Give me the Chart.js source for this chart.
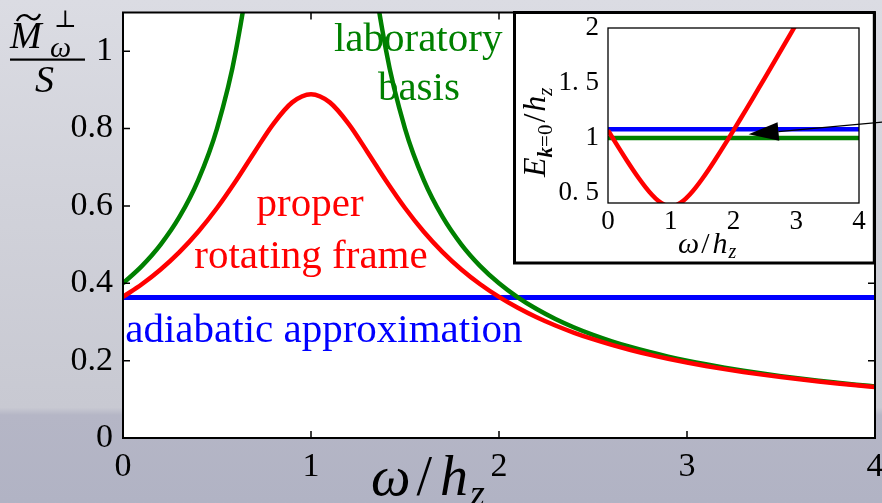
<!DOCTYPE html>
<html><head><meta charset="utf-8">
<script src="https://cdn.jsdelivr.net/npm/chart.js@4/dist/chart.umd.min.js"></script>
<style>
html,body{margin:0;padding:0;}
body{width:882px;height:503px;overflow:hidden;position:relative;
background:linear-gradient(to bottom,#dbdce3 0%,#d1d2da 40%,#c8c9d2 81%,#b5b6c6 82.5%,#b1b3c4 100%);}
#main{position:absolute;left:0;top:0;}
#inset{position:absolute;left:512px;top:11px;}
</style></head><body>
<canvas id="main" width="882" height="503"></canvas>
<canvas id="inset" width="370" height="255"></canvas>
<script>
// ---------- data ----------
const omega = [0,0.1,0.2,0.3,0.4,0.5,0.6,0.7,0.8,0.9,1.0,1.1,1.2,1.3,1.4,1.5,1.6,1.7,1.8,1.9,2.0,
  2.1,2.2,2.3,2.4,2.5,2.6,2.7,2.8,2.9,3.0,3.1,3.2,3.3,3.4,3.5,3.6,3.7,3.8,3.9,4.0];
const properFrame = [0.3648,0.3975,0.4358,0.4807,0.5333,0.5946,0.6644,0.7396,0.8123,0.8677,0.8889,
  0.8677,0.8123,0.7396,0.6644,0.5946,0.5333,0.4807,0.4358,0.3975,0.3648,
  0.3366,0.3121,0.2908,0.2720,0.2554,0.2407,0.2275,0.2156,0.2049,0.1951,
  0.1862,0.1781,0.1707,0.1638,0.1575,0.1516,0.1461,0.1410,0.1363,0.1319];
const labBasis = [0.4,0.4444,0.5,0.5714,0.6667,0.8,1.0,1.3333,2.0,4.0,null,
  4.0,2.0,1.3333,1.0,0.8,0.6667,0.5714,0.5,0.4444,0.4,
  0.3636,0.3333,0.3077,0.2857,0.2667,0.25,0.2353,0.2222,0.2105,0.2,
  0.1905,0.1818,0.1739,0.1667,0.16,0.1538,0.1481,0.1429,0.1379,0.1333];
const adiabaticOmega = [0,4];
const adiabatic = [0.363,0.363];
const mainXTicks = [0,1,2,3,4];
const mainXTickLabels = ['0','1','2','3','4'];
const mainYTicks = [0,0.2,0.4,0.6,0.8,1];
const mainYTickLabels = ['0','0.2','0.4','0.6','0.8','1'];

const insetRedOmega = [0,0.1,0.2,0.3,0.4,0.5,0.6,0.7,0.8,0.9,1.0,1.1,1.2,1.3,1.4,1.5,1.6,1.7,1.8,1.9,2.0,
  2.1,2.2,2.3,2.4,2.5,2.6,2.7,2.8,2.9,3.0];
const insetRed = [1.0700,0.9772,0.8860,0.7969,0.7106,0.6285,0.5523,0.4848,0.4301,0.3937,0.3808,
  0.3937,0.4301,0.4848,0.5523,0.6285,0.7106,0.7969,0.8860,0.9772,1.0700,
  1.1640,1.2590,1.3546,1.4509,1.5476,1.6447,1.7421,1.8398,1.9378,2.0360];
const insetLevelOmega = [0,4];
const insetBlue = [1.08,1.08];
const insetGreen = [1.0,1.0];
const insetXTicks = [0,1,2,3,4];
const insetXTickLabels = ['0','1','2','3','4'];
const insetYTicks = [0.5,1,1.5,2];
const insetYTickLabels = ['0. 5','1','1. 5','2'];

// ---------- helpers ----------
const SERIF = '"Liberation Serif", "DejaVu Serif", serif';
function pts(xs, ys){ return ys.map((y,i)=>({x:xs[i], y:y})); }
function noPad(s){ s.paddingTop=0; s.paddingBottom=0; s.paddingLeft=0; s.paddingRight=0; }

const mainNotes = [
  {text:'laboratory', x:1.57, y:1.0, color:'#008000', align:'center'},
  {text:'basis', x:1.574, y:0.875, color:'#008000', align:'center'},
  {text:'proper', x:0.995, y:0.573, color:'#ff0000', align:'center'},
  {text:'rotating frame', x:1.0, y:0.44, color:'#ff0000', align:'center'},
  {text:'adiabatic approximation', x:0.012, y:0.249, color:'#0000ff', align:'left'}
];

const mainDeco = {
  id:'mainDeco',
  beforeDraw(chart){
    const {ctx, chartArea:a} = chart;
    ctx.save(); ctx.fillStyle='#ffffff';
    ctx.fillRect(a.left,a.top,a.right-a.left,a.bottom-a.top); ctx.restore();
  },
  afterDatasetsDraw(chart){
    const {ctx, chartArea:a, scales} = chart;
    ctx.save();
    ctx.strokeStyle='#000'; ctx.lineWidth=2;
    ctx.strokeRect(a.left,a.top,a.right-a.left,a.bottom-a.top);
    ctx.lineWidth=1.5; ctx.beginPath();
    mainXTicks.forEach(v=>{ if(v<=0||v>=4) return; const px=scales.x.getPixelForValue(v);
      ctx.moveTo(px,a.bottom); ctx.lineTo(px,a.bottom-7); ctx.moveTo(px,a.top); ctx.lineTo(px,a.top+7); });
    mainYTicks.forEach(v=>{ if(v<=0) return; const py=scales.y.getPixelForValue(v);
      ctx.moveTo(a.left,py); ctx.lineTo(a.left+7,py); ctx.moveTo(a.right,py); ctx.lineTo(a.right-7,py); });
    ctx.stroke(); ctx.restore();
  },
  afterDraw(chart){
    const {ctx, scales} = chart;
    ctx.save();
    ctx.textBaseline='alphabetic';
    ctx.font = '41px ' + SERIF;
    mainNotes.forEach(n=>{ ctx.fillStyle=n.color; ctx.textAlign=n.align;
      ctx.fillText(n.text, scales.x.getPixelForValue(n.x), scales.y.getPixelForValue(n.y)); });
    ctx.textAlign='left'; ctx.fillStyle='#000';
    // y-axis title: M~ _omega ^perp / S
    ctx.font = 'italic 38px ' + SERIF; ctx.fillText('M', 10, 48);
    ctx.lineWidth=2.3; ctx.strokeStyle='#000'; ctx.beginPath();
    ctx.moveTo(17,21); ctx.bezierCurveTo(20,14,26,14,29,17); ctx.bezierCurveTo(32,20,37,21,40,14); ctx.stroke();
    ctx.font = '24px "DejaVu Serif", serif'; ctx.fillText('\u22A5', 54, 27);
    ctx.font = 'italic 30px ' + SERIF; ctx.fillText('\u03C9', 50, 57);
    ctx.fillRect(10, 58.5, 75, 2.2);
    ctx.font = 'italic 38px ' + SERIF; ctx.fillText('S', 35, 92);
    // x-axis title: omega / h_z
    let x = 371; const base = 495;
    ctx.font = 'italic 56px ' + SERIF; ctx.fillText('\u03C9', x, base); x += ctx.measureText('\u03C9').width + 6;
    ctx.font = '56px ' + SERIF; ctx.fillText('/', x, base); x += ctx.measureText('/').width + 8;
    ctx.font = 'italic 56px ' + SERIF; ctx.fillText('h', x, base); x += ctx.measureText('h').width + 2;
    ctx.font = 'italic 38px ' + SERIF; ctx.fillText('z', x, base + 11);
    ctx.restore();
  }
};

new Chart(document.getElementById('main'), {
  type:'line',
  data:{ datasets:[
    {label:'proper rotating frame', data:pts(omega, properFrame), borderColor:'#ff0000', borderWidth:4.5, order:1},
    {label:'laboratory basis', data:pts(omega, labBasis), borderColor:'#008000', borderWidth:4.5, order:2},
    {label:'adiabatic approximation', data:pts(adiabaticOmega, adiabatic), borderColor:'#0000ff', borderWidth:5, order:3}
  ]},
  options:{
    responsive:false, animation:false, events:[],
    datasets:{line:{pointRadius:0, cubicInterpolationMode:'monotone', clip:0, spanGaps:false, fill:false}},
    layout:{padding:{top:12.5,right:7,left:0,bottom:0}},
    plugins:{legend:{display:false}, tooltip:{enabled:false}, title:{display:false}},
    scales:{
      x:{type:'linear', min:0, max:4, grid:{display:false, drawTicks:false}, border:{display:false},
        afterBuildTicks:s=>{ s.ticks = mainXTicks.map(v=>({value:v})); },
        afterFit:s=>{ s.height = 65; noPad(s); },
        ticks:{autoSkip:false, maxRotation:0, padding:9, color:'#000',
          font:{family:SERIF, size:34}, callback:(v,i)=>mainXTickLabels[i]}},
      y:{type:'linear', min:0, max:1.1, grid:{display:false, drawTicks:false}, border:{display:false},
        afterBuildTicks:s=>{ s.ticks = mainYTicks.map(v=>({value:v})); },
        afterFit:s=>{ s.width = 123; noPad(s); },
        ticks:{autoSkip:false, padding:10, color:'#000',
          font:{family:SERIF, size:34}, callback:(v,i)=>mainYTickLabels[i]}}
    }
  },
  plugins:[mainDeco]
});

// ---------- inset ----------
const insetArrow = {tipX:2.24, tipY:1.034, tailX:4.4, tailY:1.147};

const insetDeco = {
  id:'insetDeco',
  beforeDraw(chart){
    const {ctx} = chart;
    ctx.save(); ctx.fillStyle='#ffffff'; ctx.fillRect(2.5,1.5,359.8,250.5); ctx.restore();
  },
  afterDatasetsDraw(chart){
    const {ctx, chartArea:a} = chart;
    ctx.save(); ctx.strokeStyle='#000'; ctx.lineWidth=1.3;
    ctx.strokeRect(a.left,a.top,a.right-a.left,a.bottom-a.top); ctx.restore();
  },
  afterDraw(chart){
    const {ctx, scales} = chart;
    ctx.save();
    ctx.strokeStyle='#000'; ctx.lineWidth=3; ctx.strokeRect(2.5,1.5,359.8,250.5);
    const tx=scales.x.getPixelForValue(insetArrow.tipX), ty=scales.y.getPixelForValue(insetArrow.tipY);
    const sx=scales.x.getPixelForValue(insetArrow.tailX), sy=scales.y.getPixelForValue(insetArrow.tailY);
    const ang=Math.atan2(sy-ty, sx-tx), L=30, W=9.3;
    const bx=tx+L*Math.cos(ang), by=ty+L*Math.sin(ang);
    ctx.lineWidth=1.2; ctx.beginPath(); ctx.moveTo(sx,sy); ctx.lineTo(bx,by); ctx.stroke();
    ctx.fillStyle='#000'; ctx.beginPath(); ctx.moveTo(tx,ty);
    ctx.lineTo(bx - W*Math.sin(ang), by + W*Math.cos(ang));
    ctx.lineTo(bx + W*Math.sin(ang), by - W*Math.cos(ang)); ctx.closePath(); ctx.fill();
    ctx.fillStyle='#000'; ctx.textBaseline='alphabetic'; ctx.textAlign='left';
    let x=166; const b=242;
    ctx.font='italic 30px '+SERIF; ctx.fillText('\u03C9',x,b); x+=ctx.measureText('\u03C9').width+2;
    ctx.font='30px '+SERIF; ctx.fillText('/',x,b); x+=ctx.measureText('/').width+3;
    ctx.font='italic 30px '+SERIF; ctx.fillText('h',x,b); x+=ctx.measureText('h').width+1;
    ctx.font='italic 20px '+SERIF; ctx.fillText('z',x,b+5);
    ctx.translate(33,166); ctx.rotate(-Math.PI/2);
    let y=0;
    ctx.font='italic 32px '+SERIF; ctx.fillText('E',y,0); y+=ctx.measureText('E').width;
    ctx.font='bold italic 21px '+SERIF; ctx.fillText('k',y,7); y+=ctx.measureText('k').width;
    ctx.font='21px '+SERIF; ctx.fillText('=0',y,7); y+=ctx.measureText('=0').width+2;
    ctx.font='32px '+SERIF; ctx.fillText('/',y,0); y+=ctx.measureText('/').width+2;
    ctx.font='italic 32px '+SERIF; ctx.fillText('h',y,0); y+=ctx.measureText('h').width;
    ctx.font='italic 21px '+SERIF; ctx.fillText('z',y,7);
    ctx.restore();
  }
};

new Chart(document.getElementById('inset'), {
  type:'line',
  data:{ datasets:[
    {label:'E proper', data:pts(insetRedOmega, insetRed), borderColor:'#ff0000', borderWidth:4.5, order:1},
    {label:'E adiabatic', data:pts(insetLevelOmega, insetBlue), borderColor:'#0000ff', borderWidth:4.5, order:2},
    {label:'E lab', data:pts(insetLevelOmega, insetGreen), borderColor:'#008000', borderWidth:4.5, order:3}
  ]},
  options:{
    responsive:false, animation:false, events:[],
    datasets:{line:{pointRadius:0, cubicInterpolationMode:'monotone', clip:0, fill:false}},
    layout:{padding:{top:17,right:23,left:0,bottom:0}},
    plugins:{legend:{display:false}, tooltip:{enabled:false}},
    scales:{
      x:{type:'linear', min:0, max:4, grid:{display:false, drawTicks:false}, border:{display:false},
        afterBuildTicks:s=>{ s.ticks = insetXTicks.map(v=>({value:v})); },
        afterFit:s=>{ s.height = 63; noPad(s); },
        ticks:{autoSkip:false, maxRotation:0, padding:3, color:'#000',
          font:{family:SERIF, size:27}, callback:(v,i)=>insetXTickLabels[i]}},
      y:{type:'linear', min:0.41, max:2, grid:{display:false, drawTicks:false}, border:{display:false},
        afterBuildTicks:s=>{ s.ticks = insetYTicks.map(v=>({value:v})); },
        afterFit:s=>{ s.width = 96; noPad(s); },
        ticks:{autoSkip:false, padding:9, color:'#000',
          font:{family:SERIF, size:27}, callback:(v,i)=>insetYTickLabels[i]}}
    }
  },
  plugins:[insetDeco]
});
</script>
</body></html>
